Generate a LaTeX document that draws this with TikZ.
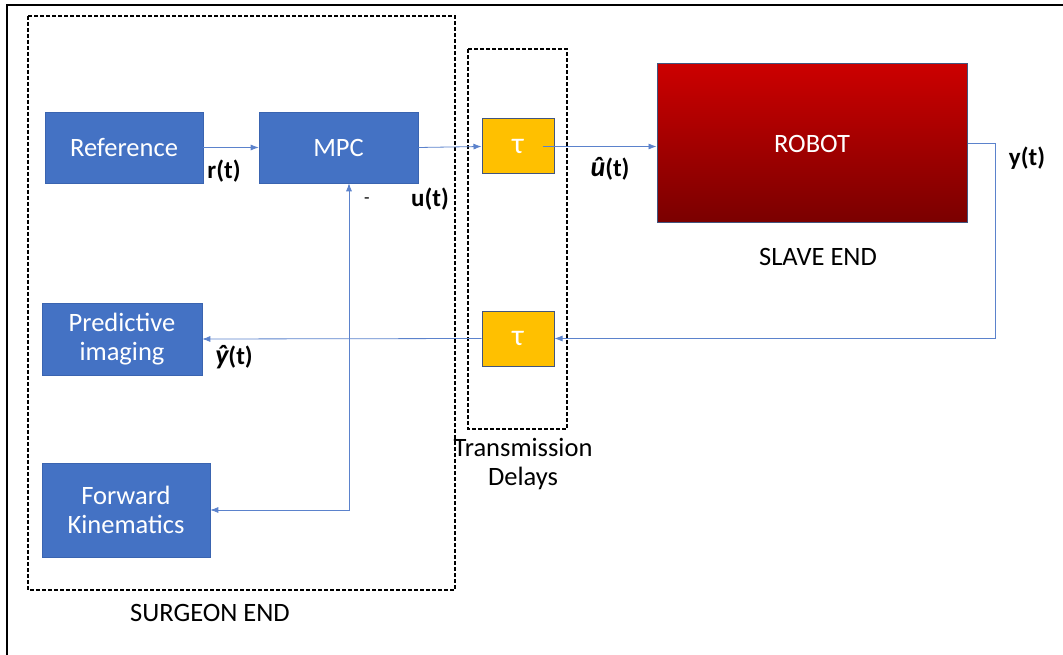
\documentclass[tikz,border=0pt]{standalone}
\usepackage{fontspec}
\setmainfont{Carlito}
\usetikzlibrary{arrows.meta}
\definecolor{blockblue}{HTML}{4472C4}
\definecolor{blockedge}{HTML}{3A64B0}
\definecolor{delayfill}{HTML}{FFC000}
\definecolor{delayedge}{HTML}{42557E}
\definecolor{robottop}{HTML}{CC0000}
\definecolor{robotbot}{HTML}{7A0000}
\definecolor{wire}{HTML}{5B82CC}
\tikzset{
  every node/.style={font=\fontsize{26.5}{29}\selectfont, inner sep=0pt},
  block/.style={rectangle, fill=blockblue, draw=blockedge, line width=0.6pt,
    text=white, align=center},
  delaybox/.style={rectangle, fill=delayfill, draw=delayedge, line width=1pt,
    text=white, minimum width=72pt, minimum height=55pt,
    font=\fontsize{30}{30}\selectfont},
  robotbox/.style={rectangle, top color=robottop, bottom color=robotbot,
    draw=delayedge, line width=1pt, text=white},
  groupbox/.style={draw=black, line width=1.4pt, dash pattern=on 4pt off 2pt},
  sig/.style={font=\fontsize{25}{27}\selectfont\bfseries},
  wirearrow/.style={draw=wire, line width=0.8pt,
    -{Latex[length=8pt,width=6pt]}},
  plainwire/.style={draw=wire, line width=0.8pt}
}
\begin{document}
\begin{tikzpicture}[x=1pt, y=-1pt]
  \useasboundingbox (0,0) rectangle (1063,655);

  % outer frame (top and left edges)
  \draw[line width=2pt] (7,655) -- (7,5) -- (1063,5);

  % grouping frames
  \draw[groupbox] (28,16) rectangle (455,590);
  \draw[groupbox] (468,49) rectangle (567,429);

  % surgeon-side blocks
  \node[block, minimum width=158pt, minimum height=71pt] (ref) at (124,147.5) {Reference};
  \node[block, minimum width=159pt, minimum height=71pt] (mpc) at (338.5,147.5) {MPC};
  \node[block, minimum width=160pt, minimum height=72pt] (pred) at (122,339) {Predictive\\imaging};
  \node[block, minimum width=168pt, minimum height=94pt] (fk) at (126,510) {Forward\\Kinematics};

  % transmission delays
  \node[delaybox] (tauf) at (518,146.5) {τ};
  \node[delaybox] (taub) at (518,338.5) {τ};

  % slave-side robot
  \node[robotbox, minimum width=310pt, minimum height=159pt] (robot) at (812,143.5) {ROBOT};

  % forward path
  \draw[wirearrow] (ref.east) -- (mpc.west);
  \draw[wirearrow] (mpc.east) -- (tauf.west);
  \coordinate (tauout) at ([xshift=-12pt]tauf.east);
  \draw[wirearrow] (tauout) -- (robot.west |- tauout);

  % return path
  \coordinate (ycorner) at (995,143.5);
  \draw[plainwire] (robot.east) -- (ycorner);
  \draw[wirearrow] (ycorner) -- (995,338.5) -- (taub.east);
  \draw[wirearrow] (taub.west) -- (pred.east);

  % kinematics feedback loop
  \coordinate (fkcorner) at (349,510);
  \draw[plainwire, {Latex[length=8pt,width=6pt]}-{Latex[length=8pt,width=6pt]}]
    (mpc.south -| fkcorner) -- (fkcorner) -- (fk.east);

  % signal labels
  \node[sig] (lr) at (224,171) {r(t)};
  \node[sig] (lu) at (430,199) {u(t)};
  \node[font=\fontsize{18}{18}\selectfont] (lminus) at (367,201) {-};
  \node[sig] (luhat) at (610,169) {{\fontsize{28}{28}\selectfont\itshape û}(t)};
  \node[sig] (ly) at (1027,158) {y(t)};
  \node[sig] (lyhat) at (234,357) {{\fontsize{28}{28}\selectfont\itshape ŷ}(t)};

  % captions
  \node (surgeon) at (210,613) {SURGEON END};
  \node (slave) at (818,257) {SLAVE END};
  \node[align=center] (trans) at (523,464) {Transmission\\Delays};
\end{tikzpicture}
\end{document}
